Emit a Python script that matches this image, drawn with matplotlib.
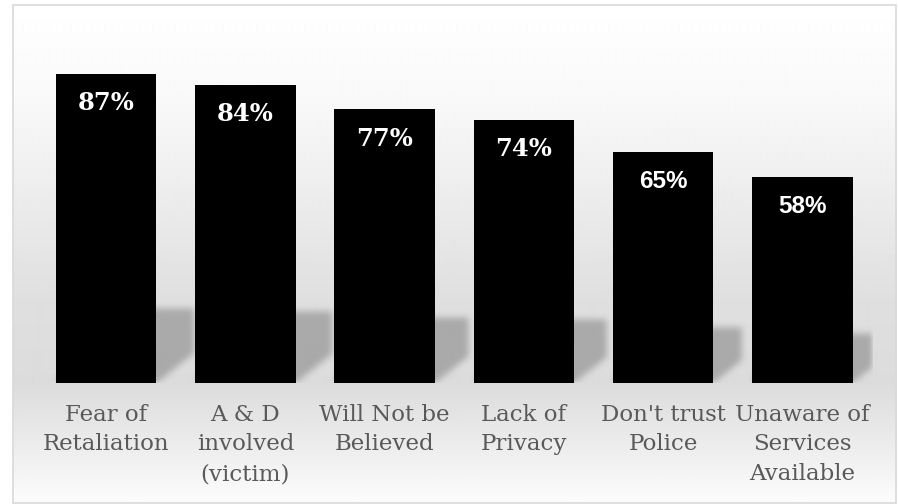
import numpy as np
import matplotlib
matplotlib.use("Agg")
import matplotlib.pyplot as plt
from matplotlib.patches import Rectangle

reasons = ["Fear of\nRetaliation", "A & D\ninvolved\n(victim)", "Will Not be\nBelieved",
           "Lack of\nPrivacy", "Don't trust\nPolice", "Unaware of\nServices\nAvailable"]
pct = [87, 84, 77, 74, 65, 58]
label_fonts = ["DejaVu Serif", "DejaVu Serif", "DejaVu Serif", "DejaVu Serif",
               "Liberation Sans", "Liberation Sans"]

W, H = 898, 504
fig = plt.figure(figsize=(W / 100, H / 100), dpi=100)
fig.patch.set_facecolor("white")

# chart area background: white -> light grey at the baseline -> white
bx0, bx1, by0, by1 = 12.5, 896, 5, 503
bg = fig.add_axes([bx0 / W, 1 - by1 / H, (bx1 - bx0) / W, (by1 - by0) / H])
rows = np.arange(by0, by1)
shade = np.interp(rows, [5, 100, 190, 300, 383, 440, 503],
                  [1.0, 0.975, 0.93, 0.875, 0.862, 0.92, 0.99])
grad = np.repeat(shade[:, None], 4, axis=1)
bg.imshow(grad, cmap="gray", vmin=0, vmax=1, aspect="auto", interpolation="bilinear")
bg.set_axis_off()
fig.patches.append(Rectangle((bx0 / W, 1 - by1 / H), (bx1 - bx0) / W, (by1 - by0) / H,
                             transform=fig.transFigure, fill=False,
                             edgecolor="#d9d9d9", linewidth=1.2, zorder=5))

# main axes
base_px = 383
x_left, x_right = 36.5, 872
ymax = 100
px_per_unit = 3.552
ax = fig.add_axes([x_left / W, 1 - base_px / H, (x_right - x_left) / W,
                   ymax * px_per_unit / H])
ax.patch.set_alpha(0)
x = np.arange(len(pct))
width = 0.72
ax.set_xlim(-0.5, len(pct) - 0.5)
ax.set_ylim(0, ymax)

# soft cast shadow behind each bar
sh_top = 32
nx, ny = int(x_right - x_left), int(sh_top * px_per_unit)
gx = np.linspace(-0.5, len(pct) - 0.5, nx)
gy = np.linspace(0, sh_top, ny)
XX, YY = np.meshgrid(gx, gy)
mask = np.zeros_like(XX)
for xi, v in zip(x, pct):
    h = 0.24 * v
    s = 0.5 * h * px_per_unit / ((x_right - x_left) / len(pct))
    frac = np.clip(YY / (0.4 * h), 0, 1)
    left = xi - width / 2 + s * YY / h
    right = xi + width / 2 + s * frac
    mask[(YY <= h) & (XX >= left) & (XX <= right)] = 1


def blur(a, k):
    kern = np.ones(k) / k
    a = np.apply_along_axis(lambda r: np.convolve(r, kern, mode="same"), 1, a)
    a = np.apply_along_axis(lambda c: np.convolve(c, kern, mode="same"), 0, a)
    return a


mask = blur(blur(blur(mask, 7), 7), 5)
rgba = np.zeros((ny, nx, 4))
rgba[..., :3] = 0.6
rgba[..., 3] = mask * 0.75
ax.imshow(rgba, extent=(-0.5, len(pct) - 0.5, 0, sh_top), origin="lower",
          aspect="auto", zorder=1, interpolation="bilinear")

ax.bar(x, pct, width=width, color="black", zorder=2)
for xi, v, fam in zip(x, pct, label_fonts):
    ax.text(xi, v - 8.2, f"{v}%", ha="center", va="center", color="white",
            fontsize=17.5, fontweight="bold", family=fam, zorder=3)

ax.set_xticks(x)
ax.set_xticklabels(reasons, fontsize=16.5, color="#595959", family="DejaVu Serif",
                   linespacing=1.45)
ax.tick_params(axis="x", length=0, pad=15)
ax.set_yticks([])
for sp in ax.spines.values():
    sp.set_visible(False)

fig.savefig("out.png", dpi=100)
